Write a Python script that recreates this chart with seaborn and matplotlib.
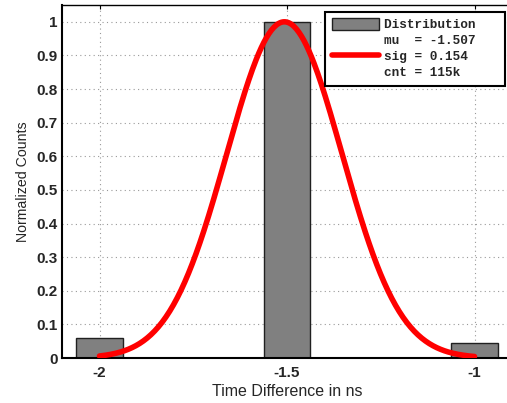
import numpy as np
import pandas as pd
import seaborn as sns
import matplotlib.pyplot as plt
from matplotlib.lines import Line2D
from matplotlib.patches import Patch

# Histogram bins (ns) and normalized counts
bin_centers = [-2.0, -1.5, -1.0]
norm_counts = [0.059, 1.0, 0.044]

# Gaussian fit parameters
mu = -1.507
sig = 0.154
cnt_label = "115k"

sns.set_theme(style="white")
plt.rcParams['font.family'] = ['Liberation Sans', 'DejaVu Sans']

W, H = 507, 403
fig = plt.figure(figsize=(W / 100, H / 100), dpi=100)
# axes run past the right edge of the picture (right spine is cropped off)
ax = fig.add_axes([62 / W, (H - 358) / H, (512 - 62) / W, (358 - 5) / H])

df = pd.DataFrame({"t": bin_centers, "c": norm_counts})
sns.barplot(data=df, x="t", y="c", native_scale=True, width=0.25,
            color="#808080", saturation=1, edgecolor="#202020", linewidth=1,
            ax=ax, zorder=2)

# fitted gaussian
xs = np.linspace(-2.0, -1.0, 300)
fit = pd.DataFrame({"t": xs, "y": np.exp(-(xs - mu) ** 2 / (2 * sig ** 2))})
sns.lineplot(data=fit, x="t", y="y", color="#ff0000", linewidth=4, ax=ax, zorder=3)

ax.set_xlim(-2.1, -0.9)
ax.set_ylim(0, 1.05)
ax.set_xticks([-2, -1.5, -1])
ax.set_xticklabels(["-2", "-1.5", "-1"])
ax.set_yticks(np.arange(0, 1.01, 0.1))
ax.set_yticklabels(["0", "0.1", "0.2", "0.3", "0.4", "0.5", "0.6", "0.7", "0.8", "0.9", "1"])
for lab in ax.get_xticklabels() + ax.get_yticklabels():
    lab.set_fontweight("bold")
    lab.set_fontsize(11)
ax.tick_params(direction="in", length=3, width=0.8, top=True, right=True, color="black")
ax.tick_params(axis="x", pad=6)
ax.tick_params(axis="y", pad=3)
ax.grid(True, linestyle=(0, (1, 3)), color="#999999", linewidth=0.8)
ax.set_axisbelow(True)
for sp in ax.spines.values():
    sp.set_color("black")
    sp.set_linewidth(1.0)
ax.spines["left"].set_linewidth(1.5)
ax.spines["bottom"].set_linewidth(1.5)

ax.set_xlabel("Time Difference in ns", fontsize=11.5, labelpad=3)
ax.set_ylabel("Normalized Counts", fontsize=10.2, labelpad=5)

blank = Line2D([], [], color="none")
handles = [Patch(facecolor="#808080", edgecolor="#202020"),
           blank,
           Line2D([0], [0], color="#ff0000", linewidth=4),
           blank]
labels = ["Distribution   ",
          "mu  = %.3f" % mu,
          "sig = %.3f" % sig,
          "cnt = %s" % cnt_label]
leg = ax.legend(handles, labels, loc="upper right",
                bbox_to_anchor=(505 / W, 1 - 12 / H), bbox_transform=fig.transFigure,
                frameon=True, fancybox=False, framealpha=1, edgecolor="black",
                prop={"family": "Liberation Mono", "weight": "bold", "size": 9.2},
                handlelength=3.7, handleheight=1.0, handletextpad=0.4,
                labelspacing=0.22, borderpad=0.5, borderaxespad=0)
leg.get_frame().set_linewidth(1.5)

fig.savefig("out.png", dpi=100)
